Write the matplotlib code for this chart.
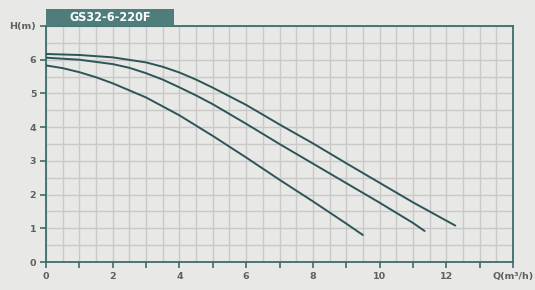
import numpy as np
import matplotlib.pyplot as plt
from matplotlib.patches import Rectangle

# pump curves, Q in m3/h, H in m
q_top = [0, 1, 2, 3, 3.5, 4, 4.5, 5, 6, 7, 8, 9, 10, 11, 12.27]
h_top = [6.17, 6.14, 6.07, 5.92, 5.79, 5.62, 5.41, 5.17, 4.66, 4.08, 3.52, 2.93, 2.35, 1.77, 1.08]

q_mid = [0, 1, 2, 2.5, 3, 3.5, 4, 4.5, 5, 6, 7, 8, 9, 10, 11, 11.35]
h_mid = [6.06, 6.0, 5.87, 5.76, 5.6, 5.41, 5.18, 4.94, 4.68, 4.1, 3.5, 2.92, 2.34, 1.76, 1.16, 0.92]

q_low = [0, 0.5, 1, 1.5, 2, 3, 4, 5, 6, 7, 8, 9, 9.5]
h_low = [5.83, 5.75, 5.63, 5.48, 5.3, 4.88, 4.35, 3.74, 3.1, 2.44, 1.8, 1.14, 0.8]

x_labels = ["0", "", "2", "", "4", "", "6", "", "8", "", "10", "", "12", "", "Q(m³/h)"]
y_labels = ["0", "1", "2", "3", "4", "5", "6", "H(m)"]
title = "GS32-6-220F"

bg = "#e8e8e6"
teal = "#3d6c6c"
line_c = "#2c5558"
grid_c = "#c9c9c9"
txt_c = "#606060"

fig = plt.figure(figsize=(5.35, 2.9), dpi=100, facecolor=bg)
ax = fig.add_axes([46/535, 28/290, 467/535, 236/290])
ax.set_facecolor(bg)

for q, h in [(q_top, h_top), (q_mid, h_mid), (q_low, h_low)]:
    ax.plot(q, h, color=line_c, lw=1.4, solid_joinstyle="round",
            solid_capstyle="round", zorder=3)

ax.set_xlim(0, 14)
ax.set_ylim(0, 7)
ax.set_xticks(np.arange(0, 15, 1))
ax.set_xticks(np.arange(0, 14, 0.5), minor=True)
ax.set_yticks(np.arange(0, 8, 1))
ax.set_yticks(np.arange(0, 7, 0.5), minor=True)
ax.set_xticklabels(x_labels)
ax.set_yticklabels(y_labels)
ax.grid(True, which="both", color=grid_c, lw=1, zorder=0)
ax.tick_params(which="minor", length=0)
ax.tick_params(which="major", direction="out", length=4, width=1.2, color=teal,
               labelsize=6.8, labelcolor=txt_c, pad=3)
for lab in ax.get_xticklabels() + ax.get_yticklabels():
    lab.set_fontweight("bold")
for s in ax.spines.values():
    s.set_color(teal)
    s.set_linewidth(1.3)

# title tab above the plot
fig.patches.append(Rectangle((46/535, 264/290), 128/535, 17/290,
                             transform=fig.transFigure, facecolor="#4e7d7b",
                             edgecolor="none"))
fig.text(110/535, 272.5/290, title, color="white", fontsize=9,
         fontweight="bold", fontstretch="condensed", ha="center", va="center")

fig.savefig("out.png", dpi=100, facecolor=bg)
